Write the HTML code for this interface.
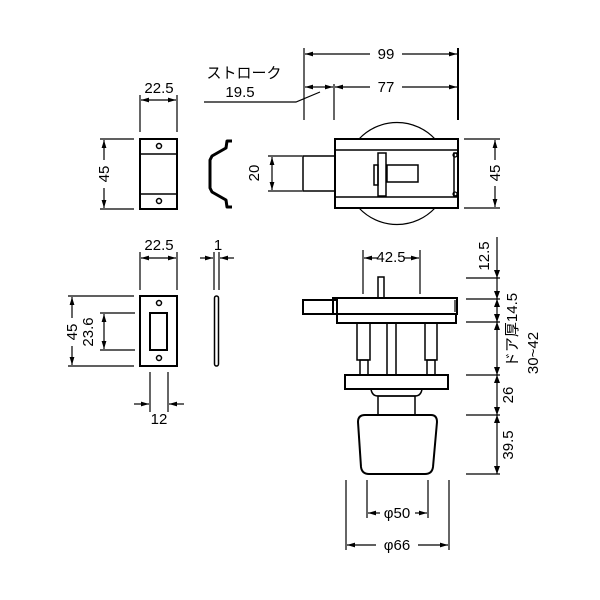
<!DOCTYPE html>
<html><head><meta charset="utf-8"><style>
html,body{margin:0;padding:0;background:#fff}
svg{display:block}
text{font-family:"Liberation Sans","Noto Sans CJK JP",sans-serif;font-size:15px;fill:#000}
</style></head><body>
<svg width="600" height="600" viewBox="0 0 600 600" xmlns="http://www.w3.org/2000/svg">
<defs>
<marker id="a" viewBox="0 0 10 6" refX="10" refY="3" markerWidth="8" markerHeight="5" orient="auto-start-reverse" markerUnits="userSpaceOnUse"><path d="M0,0L10,3L0,6z" fill="#000"/></marker>
</defs>
<g stroke="#000" stroke-width="1.2" fill="none">
<line x1="304" y1="48" x2="304" y2="120"/>
<line x1="458" y1="48" x2="458" y2="120" stroke-width="2"/>
<line x1="334" y1="84" x2="334" y2="120"/>
<line x1="305" y1="54" x2="370" y2="54" marker-start="url(#a)"/>
<line x1="402" y1="54" x2="457" y2="54" marker-end="url(#a)"/>
<line x1="305" y1="87" x2="320" y2="87" marker-start="url(#a)"/>
<line x1="320" y1="87" x2="333" y2="87" marker-end="url(#a)"/>
<line x1="335" y1="87" x2="370" y2="87" marker-start="url(#a)"/>
<line x1="402" y1="87" x2="457" y2="87" marker-end="url(#a)"/>
<polyline points="204,102 296,102 320,92"/>
<path d="M359,139 A52,52 0 0 1 435,139"/>
<path d="M359,208 A52,52 0 0 0 435,208"/>
<rect x="335" y="139" width="123" height="69" stroke-width="2"/>
<line x1="335" y1="150" x2="458" y2="150" stroke-width="1.5"/>
<line x1="335" y1="197" x2="458" y2="197" stroke-width="1.5"/>
<rect x="303" y="156" width="32" height="35" stroke-width="1.5"/>
<rect x="378" y="153" width="8" height="43" stroke-width="1.5"/>
<rect x="374" y="165" width="4" height="20" stroke-width="1.5"/>
<rect x="387" y="165" width="31" height="17" stroke-width="1.5"/>
<rect x="454" y="153" width="4" height="43" stroke-width="1.5"/>
<circle cx="455" cy="155" r="2"/><circle cx="455" cy="194" r="2"/>
<line x1="268" y1="156" x2="302" y2="156"/>
<line x1="268" y1="191" x2="302" y2="191"/>
<line x1="272" y1="157" x2="272" y2="190" marker-start="url(#a)" marker-end="url(#a)"/>
<line x1="464" y1="139" x2="500" y2="139"/>
<line x1="464" y1="208" x2="500" y2="208"/>
<line x1="495" y1="140" x2="495" y2="160" marker-start="url(#a)"/>
<line x1="495" y1="186" x2="495" y2="207" marker-end="url(#a)"/>
<line x1="140" y1="95" x2="140" y2="132"/>
<line x1="177" y1="95" x2="177" y2="132"/>
<line x1="141" y1="100" x2="176" y2="100" marker-start="url(#a)" marker-end="url(#a)"/>
<rect x="140" y="139" width="37" height="70" stroke-width="2"/>
<line x1="140" y1="154" x2="177" y2="154" stroke-width="1.5"/>
<line x1="140" y1="194" x2="177" y2="194" stroke-width="1.5"/>
<circle cx="159" cy="146" r="2.5" stroke-width="1.5"/>
<circle cx="159" cy="201" r="2.5" stroke-width="1.5"/>
<line x1="100" y1="139" x2="134" y2="139"/>
<line x1="100" y1="209" x2="134" y2="209"/>
<line x1="104" y1="140" x2="104" y2="160" marker-start="url(#a)"/>
<line x1="104" y1="188" x2="104" y2="208" marker-end="url(#a)"/>
<path d="M232,141 L227,141 L226,148 L212,156 L210,160 L210,188 L212,192 L226,200 L227,207 L232,207" stroke-width="3" stroke-linejoin="round"/>
<line x1="140" y1="252" x2="140" y2="290"/>
<line x1="177" y1="252" x2="177" y2="290"/>
<line x1="141" y1="258" x2="176" y2="258" marker-start="url(#a)" marker-end="url(#a)"/>
<rect x="140" y="296" width="37" height="70" stroke-width="2"/>
<rect x="150" y="313" width="17" height="37" stroke-width="2"/>
<circle cx="159" cy="303" r="2.5" stroke-width="1.5"/>
<circle cx="159" cy="358" r="2.5" stroke-width="1.5"/>
<line x1="68" y1="296" x2="134" y2="296"/>
<line x1="68" y1="366" x2="134" y2="366"/>
<line x1="72" y1="297" x2="72" y2="318" marker-start="url(#a)"/>
<line x1="72" y1="346" x2="72" y2="365" marker-end="url(#a)"/>
<line x1="100" y1="313" x2="135" y2="313"/>
<line x1="100" y1="350" x2="135" y2="350"/>
<line x1="104" y1="314" x2="104" y2="349" marker-start="url(#a)" marker-end="url(#a)"/>
<line x1="150" y1="372" x2="150" y2="412"/>
<line x1="168" y1="372" x2="168" y2="412"/>
<line x1="134" y1="404" x2="149" y2="404" marker-end="url(#a)"/>
<line x1="184" y1="404" x2="169" y2="404" marker-end="url(#a)"/>
<line x1="214" y1="252" x2="214" y2="290"/>
<line x1="219" y1="252" x2="219" y2="290"/>
<line x1="200" y1="258" x2="213" y2="258" marker-end="url(#a)"/>
<line x1="234" y1="258" x2="220" y2="258" marker-end="url(#a)"/>
<rect x="214.5" y="296" width="4" height="70" rx="2" stroke-width="1.5"/>
<line x1="363" y1="250" x2="363" y2="294"/>
<line x1="420" y1="250" x2="420" y2="294"/>
<line x1="364" y1="258" x2="378" y2="258" marker-start="url(#a)"/>
<line x1="405" y1="258" x2="419" y2="258" marker-end="url(#a)"/>
<rect x="378" y="277" width="6" height="21" stroke-width="1.5"/>
<rect x="303" y="300" width="34" height="14" stroke-width="2"/>
<rect x="333" y="298" width="124" height="16" stroke-width="2"/>
<rect x="337" y="314" width="119" height="9" stroke-width="2"/>
<line x1="455" y1="300" x2="455" y2="312"/>
<rect x="357" y="323" width="13" height="37" stroke-width="1.5"/>
<rect x="360" y="360" width="8" height="15" stroke-width="1.5"/>
<rect x="425" y="323" width="12" height="37" stroke-width="1.5"/>
<rect x="427" y="360" width="8" height="15" stroke-width="1.5"/>
<rect x="387" y="323" width="9" height="52" stroke-width="1.5"/>
<rect x="345" y="375" width="103" height="14" stroke-width="2"/>
<path d="M371,389 Q372,396 378,396 L415,396 Q421,396 422,389" stroke-width="1.5"/>
<rect x="378" y="396" width="37" height="19" stroke-width="1.5"/>
<path d="M365,415 L431,415 Q437,415 437,422 L433,467 Q432,474 425,474 L369,474 Q362,474 361,467 L358,422 Q358,415 365,415 Z" stroke-width="2"/>
<line x1="497" y1="237" x2="497" y2="474"/>
<line x1="466" y1="278" x2="500" y2="278"/>
<line x1="466" y1="299" x2="500" y2="299"/>
<line x1="466" y1="322" x2="500" y2="322"/>
<line x1="466" y1="375" x2="500" y2="375"/>
<line x1="466" y1="415" x2="500" y2="415"/>
<line x1="466" y1="474" x2="500" y2="474"/>
<g stroke="none" fill="#000">
<path d="M494,270 L497,278 L500,270Z"/><path d="M494,307 L497,299 L500,307Z"/>
<path d="M494,291 L497,299 L500,291Z"/><path d="M494,330 L497,322 L500,330Z"/>
<path d="M494,314 L497,322 L500,314Z"/><path d="M494,383 L497,375 L500,383Z"/>
<path d="M494,367 L497,375 L500,367Z"/><path d="M494,423 L497,415 L500,423Z"/>
<path d="M494,407 L497,415 L500,407Z"/><path d="M494,466 L497,474 L500,466Z"/>
</g>
<line x1="367" y1="480" x2="367" y2="518"/>
<line x1="428" y1="480" x2="428" y2="518"/>
<line x1="368" y1="513" x2="380" y2="513" marker-start="url(#a)"/>
<line x1="415" y1="513" x2="427" y2="513" marker-end="url(#a)"/>
<line x1="346" y1="480" x2="346" y2="550"/>
<line x1="449" y1="480" x2="449" y2="550"/>
<line x1="347" y1="545" x2="376" y2="545" marker-start="url(#a)"/>
<line x1="418" y1="545" x2="448" y2="545" marker-end="url(#a)"/>
</g>
<g text-anchor="middle">
<text x="386" y="59">99</text>
<text x="386" y="92">77</text>
<text x="244" y="78">ストローク</text>
<text x="240" y="97">19.5</text>
<text x="159" y="93">22.5</text>
<text x="159" y="250">22.5</text>
<text x="218" y="250">1</text>
<text x="159" y="424">12</text>
<text x="391" y="262">42.5</text>
<text x="397" y="518">φ50</text>
<text x="397" y="550">φ66</text>
<text transform="translate(259,173) rotate(-90)">20</text>
<text transform="translate(500,173) rotate(-90)">45</text>
<text transform="translate(109,174) rotate(-90)">45</text>
<text transform="translate(77,332) rotate(-90)">45</text>
<text transform="translate(93,332) rotate(-90)">23.6</text>
<text transform="translate(489,256) rotate(-90)">12.5</text>
<text transform="translate(517,330) rotate(-90)">ドア厚14.5</text>
<text transform="translate(538,353) rotate(-90)">30~42</text>
<text transform="translate(513,395) rotate(-90)">26</text>
<text transform="translate(513,445) rotate(-90)">39.5</text>
</g>
</svg>
</body></html>
